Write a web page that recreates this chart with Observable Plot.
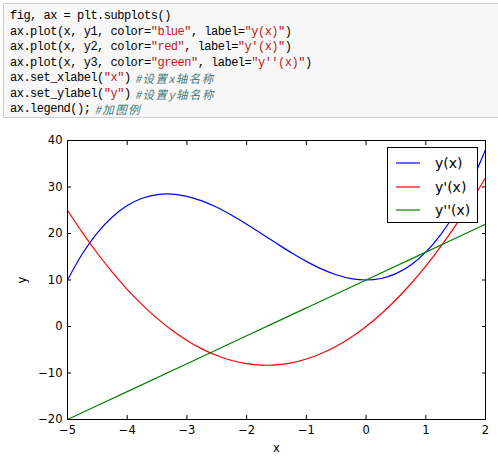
<!DOCTYPE html>
<html>
<head>
<meta charset="utf-8">
<script src="https://cdn.jsdelivr.net/npm/d3@7"></script>
<script src="https://cdn.jsdelivr.net/npm/@observablehq/plot@0.6"></script>
<style>
  html, body { margin: 0; padding: 0; background: #fff; }
  body { width: 498px; height: 457px; position: relative; overflow: hidden; }
  .code {
    position: absolute; left: 3px; top: 3px; width: 495px; height: 115px;
    background: #f7f7f7; border: 1px solid #cfcfcf; border-right: none; box-sizing: border-box;
  }
  .code .ln {
    position: absolute; left: 6px; height: 15px; line-height: 15px; white-space: pre;
    font-family: "Liberation Mono", "DejaVu Sans Mono", monospace;
    font-size: 12px; letter-spacing: -0.5px; color: #000;
  }
  .s { color: #ba2121; }
  .c { display: inline-block; height: 15px; line-height: 15px; vertical-align: top; margin-left: 4px;
       color: #408080; font-style: italic; font-family: "Noto Sans CJK SC", "Liberation Mono", monospace; letter-spacing: 1.5px; font-size: 11.5px; }
  #chart { position: absolute; left: 0; top: 125px; }
  .legend {
    position: absolute; left: 387px; top: 147px; width: 91px; height: 76px;
    box-sizing: border-box; border: 1px solid #000; background: #fff;
    font-family: "DejaVu Sans", sans-serif; font-size: 14px;
  }
  .legend .row { position: absolute; left: 0; height: 20px; display: flex; align-items: center; }
  .legend .row svg { margin-left: 8px; }
  .legend .row span { margin-left: 15px; }
</style>
</head>
<body>
<div class="code" id="code"></div>
<div id="chart"></div>
<div class="legend" id="legend"></div>
<script>
// Code listing shown above the chart
const codeLines = [
  'fig, ax = plt.subplots()',
  'ax.plot(x, y1, color=<span class="s">"blue"</span>, label=<span class="s">"y(x)"</span>)',
  'ax.plot(x, y2, color=<span class="s">"red"</span>, label=<span class="s">"y\'(x)"</span>)',
  'ax.plot(x, y3, color=<span class="s">"green"</span>, label=<span class="s">"y\'\'(x)"</span>)',
  'ax.set_xlabel(<span class="s">"x"</span>)<span class="c">#设置x轴名称</span>',
  'ax.set_ylabel(<span class="s">"y"</span>)<span class="c">#设置y轴名称</span>',
  'ax.legend();<span class="c">#加图例</span>'
];

// Data
const xs = [-5, -4.75, -4.5, -4.25, -4, -3.75, -3.5, -3.25, -3, -2.75, -2.5, -2.25, -2, -1.75, -1.5, -1.25, -1, -0.75, -0.5, -0.25, 0, 0.25, 0.5, 0.75, 1, 1.25, 1.5, 1.75, 2];
const y1 = [10, 15.64, 20.13, 23.55, 26, 27.58, 28.38, 28.48, 28, 27.02, 25.63, 23.92, 22, 19.95, 17.88, 15.86, 14, 12.39, 11.13, 10.30, 10, 10.33, 11.38, 13.23, 16, 19.77, 24.63, 30.67, 38];
const y2 = [25, 20.19, 15.75, 11.69, 8, 4.69, 1.75, -0.81, -3, -4.81, -6.25, -7.31, -8, -8.31, -8.25, -7.81, -7, -5.81, -4.25, -2.31, 0, 2.69, 5.75, 9.19, 13, 17.19, 21.75, 26.69, 32];
const xs3 = [-5, -4, -3, -2, -1, 0, 1, 2];
const y3 = [-20, -14, -8, -2, 4, 10, 16, 22];
const seriesNames = ["y(x)", "y'(x)", "y''(x)"];
const seriesColors = ["#0000ff", "#ff0000", "#008000"];
const xTicks = [-5, -4, -3, -2, -1, 0, 1, 2];
const yTicks = [-20, -10, 0, 10, 20, 30, 40];

const codeBox = document.getElementById("code");
codeLines.forEach((html, i) => {
  const d = document.createElement("div");
  d.className = "ln";
  d.style.top = (5 + i * 15.5) + "px";
  d.innerHTML = html;
  codeBox.appendChild(d);
});

const rows = [];
xs.forEach((x, i) => rows.push({x, y: y1[i], s: seriesNames[0]}));
xs.forEach((x, i) => rows.push({x, y: y2[i], s: seriesNames[1]}));
xs3.forEach((x, i) => rows.push({x, y: y3[i], s: seriesNames[2]}));

const fmt = d => (d < 0 ? "\u2212" : "") + Math.abs(d);
const font = "DejaVu Sans, sans-serif";
const chart = Plot.plot({
  width: 498, height: 332,
  marginTop: 15, marginBottom: 38, marginLeft: 67, marginRight: 13,
  style: {fontFamily: font, fontSize: "11.5px", color: "#000", background: "transparent"},
  x: {domain: [-5, 2]},
  y: {domain: [-20, 40]},
  color: {domain: seriesNames, range: seriesColors},
  marks: [
    Plot.line(rows, {x: "x", y: "y", z: "s", stroke: "s", strokeWidth: 1.2, curve: "catmull-rom"}),
    Plot.frame({stroke: "#000", strokeWidth: 1}),
    Plot.axisX({ticks: xTicks, tickFormat: fmt, tickSize: 0, tickPadding: 6, label: "x", labelAnchor: "center", labelArrow: "none", labelOffset: 32, fontSize: 11.5}),
    Plot.axisY({ticks: yTicks, tickFormat: fmt, tickSize: 0, tickPadding: 5, label: "y", labelAnchor: "center", labelArrow: "none", labelOffset: 50, fontSize: 11.5}),
    Plot.axisX({ticks: xTicks, tickSize: 4, dy: -4, fill: "none", label: null}),
    Plot.axisX({anchor: "top", ticks: xTicks, tickSize: 4, dy: 4, fill: "none", label: null}),
    Plot.axisY({ticks: yTicks, tickSize: 4, dx: 4, fill: "none", label: null}),
    Plot.axisY({anchor: "right", ticks: yTicks, tickSize: 4, dx: -4, fill: "none", label: null})
  ]
});
document.getElementById("chart").appendChild(chart);

const legend = document.getElementById("legend");
seriesNames.forEach((name, i) => {
  const row = document.createElement("div");
  row.className = "row";
  row.style.top = (5 + i * 23.7) + "px";
  row.innerHTML = `<svg width="24" height="4"><line x1="0" y1="2" x2="24" y2="2" stroke="${seriesColors[i]}" stroke-width="1.2"/></svg><span>${name}</span>`;
  legend.appendChild(row);
});
</script>
</body>
</html>
